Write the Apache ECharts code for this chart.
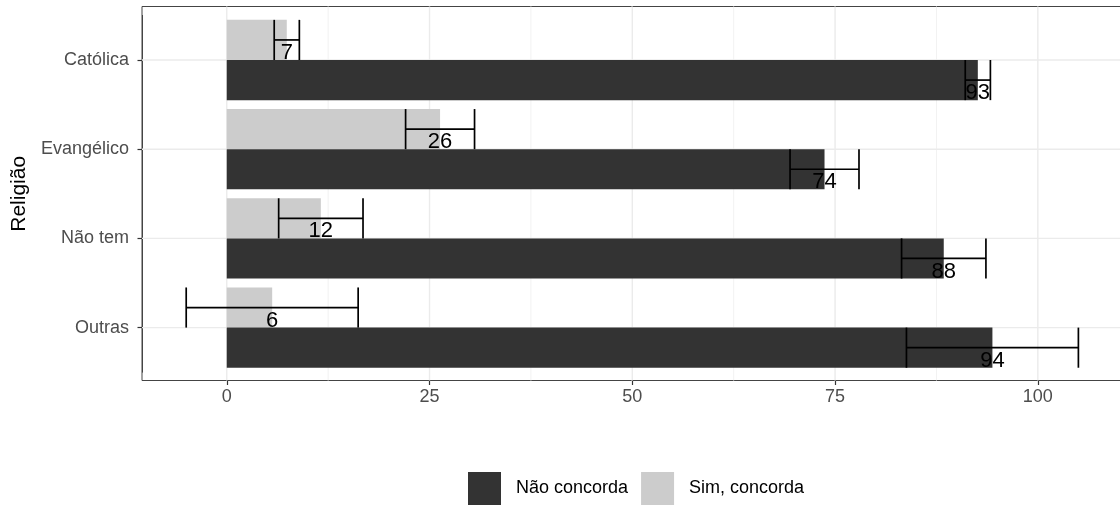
<!DOCTYPE html>
<html>
<head>
<meta charset="utf-8">
<script src="https://cdn.jsdelivr.net/npm/echarts@6/dist/echarts.min.js"></script>
<style>
  html, body { margin: 0; padding: 0; background: #fff; }
  #chart { width: 1120px; height: 506px; }
</style>
</head>
<body>
<div id="chart"></div>
<script>
// Religião x concordância (%), com margem de erro
const categories = ['Católica', 'Evangélico', 'Não tem', 'Outras'];
const simConcorda = [7.4, 26.3, 11.6, 5.6];
const naoConcorda = [92.6, 73.7, 88.4, 94.4];
const margemErro = [1.55, 4.25, 5.2, 10.6];
const xTicks = [0, 25, 50, 75, 100];
const xMinorTicks = [12.5, 37.5, 62.5, 87.5];
const xRange = [-10.45, 110.5];

const FONT = '"Liberation Sans", Arial, sans-serif';
const DARK = '#333333';
const LIGHT = '#CCCCCC';

const chart = echarts.init(document.getElementById('chart'), null, { renderer: 'canvas' });

// error bar + rounded value label; side -1 = upper half of the band, +1 = lower half
function errorSeries(name, values, side) {
  return {
    type: 'custom',
    name: name,
    xAxisIndex: 1,
    yAxisIndex: 1,
    z: 5,
    silent: true,
    encode: { x: 0, y: 1 },
    data: categories.map((c, i) => [values[i], i, margemErro[i]]),
    renderItem: function (params, api) {
      const v = api.value(0), idx = api.value(1), e = api.value(2);
      const c = api.coord([v, idx]);
      const half = api.size([0, 1])[1] * 0.225;
      const cy = c[1] + side * half;
      const lo = api.coord([v - e, idx])[0];
      const hi = api.coord([v + e, idx])[0];
      const stroke = { stroke: '#000', lineWidth: 1.7 };
      return {
        type: 'group',
        children: [
          { type: 'line', shape: { x1: lo, y1: cy, x2: hi, y2: cy }, style: stroke },
          { type: 'line', shape: { x1: lo, y1: cy - half, x2: lo, y2: cy + half }, style: stroke },
          { type: 'line', shape: { x1: hi, y1: cy - half, x2: hi, y2: cy + half }, style: stroke },
          {
            type: 'text',
            style: {
              text: String(Math.round(v)),
              x: c[0], y: cy + half + 4,
              align: 'center', verticalAlign: 'bottom',
              fontSize: 22, fontFamily: FONT, fill: '#000'
            }
          }
        ]
      };
    }
  };
}

const option = {
  animation: false,
  backgroundColor: '#fff',
  textStyle: { fontFamily: FONT },
  grid: [
    { left: 142, top: 6.5, width: 981, height: 374, show: true, borderColor: '#444', borderWidth: 1,
      backgroundColor: 'transparent', outerBoundsMode: 'none' },
    { left: 142, top: 15.4, width: 981, height: 356.8, outerBoundsMode: 'none' }
  ],
  xAxis: [
    {
      gridIndex: 0, type: 'value', min: xRange[0], max: xRange[1],
      axisLine: { show: false },
      axisTick: { show: true, customValues: xTicks, length: 4.5, lineStyle: { color: '#333', width: 1.2 } },
      axisLabel: { customValues: xTicks, color: '#4D4D4D', fontSize: 18, margin: 8, fontFamily: FONT },
      splitLine: { show: false }
    },
    { gridIndex: 1, type: 'value', min: xRange[0], max: xRange[1], show: false }
  ],
  yAxis: [
    { gridIndex: 0, type: 'value', min: 0, max: 1, show: false },
    {
      gridIndex: 1, type: 'category', inverse: true, data: categories,
      axisLine: { show: true, onZero: false, lineStyle: { color: '#444', width: 1 } },
      axisTick: { show: true, alignWithLabel: true, length: 4.5, lineStyle: { color: '#333', width: 1.2 } },
      axisLabel: { color: '#4D4D4D', fontSize: 18, margin: 13, fontFamily: FONT },
      splitLine: { show: false },
      name: 'Religião', nameLocation: 'middle', nameRotate: 90, nameGap: 106,
      nameTextStyle: { fontSize: 21, color: '#000', fontFamily: FONT }
    }
  ],
  legend: {
    data: ['Não concorda', 'Sim, concorda'],
    left: 468, top: 472, padding: 0,
    itemWidth: 33, itemHeight: 33, itemGap: 13, icon: 'rect',
    textStyle: { fontSize: 18, color: '#000', fontFamily: FONT, padding: [0, 0, 0, 10] }
  },
  series: [
    // vertical grid lines, full panel height
    {
      type: 'custom', xAxisIndex: 0, yAxisIndex: 0, z: 1, silent: true,
      data: xTicks.map(v => [v, 1]).concat(xMinorTicks.map(v => [v, 0])),
      encode: { x: 0 },
      renderItem: function (params, api) {
        const x = api.coord([api.value(0), 0])[0];
        const cs = params.coordSys;
        const major = api.value(1) === 1;
        return {
          type: 'line',
          shape: { x1: x, y1: cs.y, x2: x, y2: cs.y + cs.height },
          style: { stroke: major ? '#EBEBEB' : '#F2F2F2', lineWidth: major ? 1.4 : 1 }
        };
      }
    },
    // horizontal grid lines at category centres
    {
      type: 'custom', xAxisIndex: 1, yAxisIndex: 1, z: 1, silent: true,
      data: categories.map((c, i) => [0, i]),
      encode: { x: 0, y: 1 },
      renderItem: function (params, api) {
        const y = api.coord([0, api.value(1)])[1];
        const cs = params.coordSys;
        return {
          type: 'line',
          shape: { x1: cs.x, y1: y, x2: cs.x + cs.width, y2: y },
          style: { stroke: '#EBEBEB', lineWidth: 1.4 }
        };
      }
    },
    {
      name: 'Sim, concorda', type: 'bar', xAxisIndex: 1, yAxisIndex: 1, z: 3,
      data: simConcorda, barWidth: '45%', barGap: '0%',
      itemStyle: { color: LIGHT }, silent: true
    },
    {
      name: 'Não concorda', type: 'bar', xAxisIndex: 1, yAxisIndex: 1, z: 3,
      data: naoConcorda, barWidth: '45%', barGap: '0%',
      itemStyle: { color: DARK }, silent: true
    },
    errorSeries('erro-sim', simConcorda, -1),
    errorSeries('erro-nao', naoConcorda, 1)
  ]
};

chart.setOption(option);
</script>
</body>
</html>
